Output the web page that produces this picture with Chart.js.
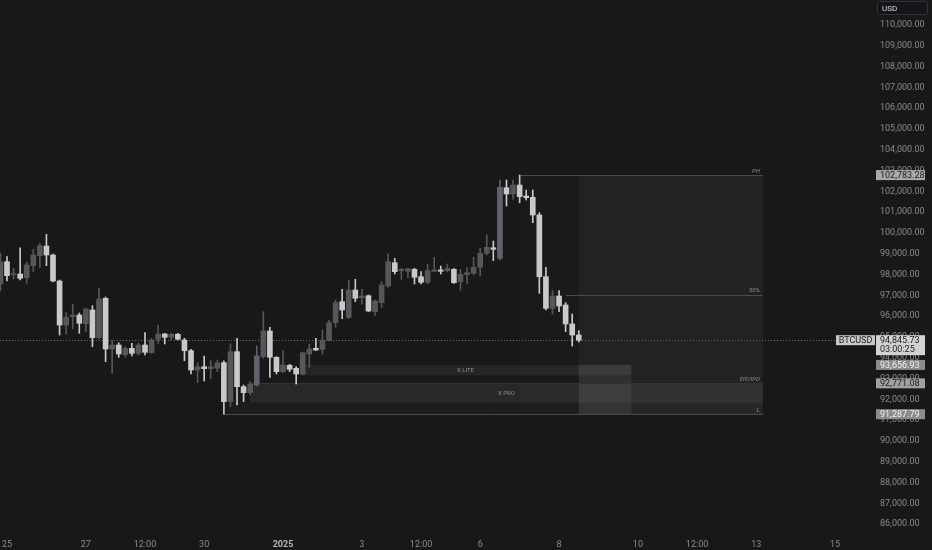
<!DOCTYPE html>
<html><head><meta charset="utf-8">
<script src="https://cdn.jsdelivr.net/npm/chart.js@4.4.1/dist/chart.umd.min.js"></script>
<style>html,body{margin:0;padding:0;background:#181818;}#wrap{width:932px;height:550px;}</style>
</head><body><div id="wrap"><canvas id="c" width="932" height="550"></canvas></div>
<script>
// 4H BTCUSD candles, starting Dec 24 20:00 (hours relative to Dec 25 00:00)
const firstCandleHour = -4;
const candleStepHours = 4;
const opens  = [97547,98620,98000,98028,97850,98427,98908,99374,98942,97692,95576,95975,96057,95639,96297,94966,96860,94422,94614,94148,94456,94215,94614,94244,94888,95143,94985,95129,94855,94340,93412,93571,93475,93495,93764,91889,94292,92610,92321,92691,94052,95288,94023,93331,93636,93495,93220,94182,94456,94407,94822,95687,96697,95946,97259,96889,96985,96215,96649,97451,98572,98187,98158,98254,97898,97629,98158,98220,98187,98254,97658,97995,98062,98350,99023,99292,98783,102178,101875,102307,101778,101716,100865,97898,96378,96970,96538,95624,95095];
const highs  = [99038,98860,98302,99292,98590,99215,99504,99937,98990,97740,96186,96571,96153,96394,96504,97340,96922,94855,94725,94533,94696,94696,95206,94936,95576,95177,95177,95177,94936,94407,93764,94086,93859,93893,93859,94663,94936,92691,92850,94566,96215,95466,94052,94340,93687,93571,94278,94663,94936,95336,95816,96778,97292,97740,97773,97292,97018,96778,97658,98990,98783,98302,98302,98302,98139,98509,98831,98413,98509,98283,98254,98331,98831,99263,99903,99615,102548,102548,102548,102783.28,102067,102067,100976,98350,97225,97225,96649,96105,95302];
const lows   = [97211,97692,97788,97740,97581,98139,98333,98427,97644,95095,95129,95384,95177,95254,94533,94903,93811,93253,94023,94023,94086,94134,94134,94215,94696,94662,94822,94855,93859,93220,92802,92884,92994,93331,91287.79,91649,91730,91889,92210,92643,93975,93061,93220,93283,93331,92739,93172,93542,94340,94182,94807,95466,95880,95880,96697,96586,96215,96023,96427,97389,98028,97773,97850,97547,97547,97547,98139,98028,98139,97581,97259,97547,97980,97932,98942,98668,98701,101298,101620,101456,101586,100495,97100,96297,96105,96215,95254,94566,94759];
const closes = [98605,97947,98030,97822,98460,98942,99389,98942,97692,95576,95946,96057,95658,96345,94966,96826,94422,94614,94182,94456,94215,94614,94263,94855,95143,94985,95129,94888,94340,93412,93571,93475,93571,93764,91889,94292,92610,92321,92739,94086,95288,94023,93331,93653,93445,93220,94244,94422,94374,94855,95687,96649,96297,97259,96860,96970,96249,96730,97499,98620,98139,98254,98283,97870,97629,98187,98220,98158,98302,97610,98014,98091,98350,99023,99311,99215,102197,101875,102307,101745,101697,100865,97898,96378,96970,96489,95624,95095,94845.73];
const accentCandles = [39, 76]; // bluish-tinted bullish candles

// axis ticks
const xTickHours  = [0, 48, 84, 120, 168, 216, 252, 288, 336, 384, 420, 456, 504];
const xTickLabels = ['25','27','12:00','30','2025','3','12:00','6','8','10','12:00','13','15'];
const yTickValues = [86000,87000,88000,89000,90000,91000,92000,93000,94000,95000,96000,97000,98000,99000,100000,101000,102000,103000,104000,105000,106000,107000,108000,109000,110000];

// levels
const lastPrice = 94845.73;
const countdown = '03:00:25';
const symbol = 'BTCUSD';
const rangeHigh = 102783.28;
const rangeLow = 91287.79;
const liteTop = 93656.93;
const liteBottom = 93150;
const proTop = 92771.08;
const proBottom = 91830;
const rangeStartHour = 312, rangeEndHour = 460, lastCandleHour = 348, midStartHour = 340;
const liteStartHour = 178, liteEndHour = 380;
const proStartHour = 148, lowStartHour = 132;

const times = opens.map((_, i) => firstCandleHour + i * candleStepHours);
const upCol = '#56565b', downCol = '#c9c9c9', accentCol = '#62626f';
const colors = opens.map((o, i) => closes[i] >= o ? (accentCandles.includes(i) ? accentCol : upCol) : downCol);

const fmt = v => v.toLocaleString('en-US', {minimumFractionDigits: 2, maximumFractionDigits: 2});
const FONT = 'Roboto, "Noto Sans", sans-serif';

const overlay = {
  id: 'overlay',
  beforeDatasetsDraw(chart) {
    const {ctx, scales: {x, y}, chartArea: ca} = chart;
    const X = h => x.getPixelForValue(h), Y = v => y.getPixelForValue(v);
    ctx.save();
    // range box
    ctx.fillStyle = 'rgba(255,255,255,0.01)';
    ctx.fillRect(X(rangeStartHour), Y(rangeHigh), X(rangeEndHour) - X(rangeStartHour), Y(rangeLow) - Y(rangeHigh));
    ctx.fillStyle = 'rgba(255,255,255,0.04)';
    ctx.fillRect(X(lastCandleHour), Y(rangeHigh), X(rangeEndHour) - X(lastCandleHour), Y(rangeLow) - Y(rangeHigh));
    // low zone
    ctx.fillStyle = 'rgba(255,255,255,0.025)';
    ctx.fillRect(X(lowStartHour), Y(proBottom), X(rangeEndHour) - X(lowStartHour), Y(rangeLow) - Y(proBottom));
    // X PRO
    ctx.fillStyle = 'rgba(255,255,255,0.07)';
    ctx.fillRect(X(proStartHour), Y(proTop), X(rangeEndHour) - X(proStartHour), Y(proBottom) - Y(proTop));
    // X LITE
    ctx.fillStyle = 'rgba(255,255,255,0.06)';
    ctx.fillRect(X(liteStartHour), Y(liteTop), X(liteEndHour) - X(liteStartHour), Y(liteBottom) - Y(liteTop));
    ctx.fillStyle = 'rgba(255,255,255,0.06)';
    ctx.fillRect(X(lastCandleHour), Y(liteTop), X(liteEndHour) - X(lastCandleHour), Y(rangeLow) - Y(liteTop));
    // lines
    ctx.strokeStyle = '#4a4a4a'; ctx.lineWidth = 1;
    const hline = (h0, h1, v) => { const yy = Math.round(Y(v)) + 0.5; ctx.beginPath(); ctx.moveTo(X(h0), yy); ctx.lineTo(X(h1), yy); ctx.stroke(); };
    hline(rangeStartHour, rangeEndHour, rangeHigh);
    hline(midStartHour, rangeEndHour, (rangeHigh + rangeLow) / 2);
    hline(lowStartHour, rangeEndHour, rangeLow);
    ctx.strokeStyle = '#333';
    hline(proStartHour, rangeEndHour, proTop);
    // labels
    ctx.fillStyle = '#8a8a8a';
    ctx.font = 'italic 6px ' + FONT;
    ctx.textAlign = 'right'; ctx.textBaseline = 'bottom';
    const xr = X(rangeEndHour) - 3;
    ctx.fillText('PH', xr, Y(rangeHigh) - 1);
    ctx.fillText('50%', xr, Y((rangeHigh + rangeLow) / 2) - 1);
    ctx.fillText('EIP/IPD', xr, Y(proTop) - 1);
    ctx.fillText('L', xr, Y(rangeLow) - 1);
    ctx.font = '6px ' + FONT; ctx.textAlign = 'center'; ctx.textBaseline = 'middle';
    ctx.fillText('X LITE', (X(liteStartHour) + X(liteEndHour)) / 2, (Y(liteTop) + Y(liteBottom)) / 2);
    ctx.fillText('X PRO', (X(proStartHour) + X(rangeEndHour)) / 2, (Y(proTop) + Y(proBottom)) / 2);
    // last price dotted
    ctx.strokeStyle = '#6a6a6a'; ctx.setLineDash([1, 2]);
    const yl = Math.round(Y(lastPrice)) + 0.5;
    ctx.beginPath(); ctx.moveTo(ca.left, yl); ctx.lineTo(ca.right - 40, yl); ctx.stroke();
    ctx.restore();
  },
  afterDraw(chart) {
    const {ctx, scales: {y}, chartArea: ca} = chart;
    const Y = v => y.getPixelForValue(v);
    ctx.save();
    ctx.font = '9px ' + FONT; ctx.textBaseline = 'middle'; ctx.textAlign = 'left';
    const box = (v, bg, fg) => {
      const yy = Y(v);
      ctx.fillStyle = bg; ctx.fillRect(ca.right, yy - 5, 49, 10);
      ctx.fillStyle = fg; ctx.fillText(fmt(v), ca.right + 4, yy + 0.5);
    };
    box(rangeHigh, '#a9a9a9', '#1c1c1c');
    box(liteTop, '#8b8b8b', '#f0f0f0');
    box(proTop, '#a0a0a0', '#1c1c1c');
    box(rangeLow, '#8b8b8b', '#f0f0f0');
    // current price
    const yc = Y(lastPrice);
    ctx.fillStyle = '#d2d2d2'; ctx.fillRect(ca.right, yc - 5, 49, 20);
    ctx.fillStyle = '#1c1c1c';
    ctx.fillText(fmt(lastPrice), ca.right + 4, yc + 0.5);
    ctx.fillText(countdown, ca.right + 4, yc + 9.5);
    ctx.fillStyle = '#c8c8c8'; ctx.fillRect(ca.right - 40, yc - 5, 39, 10);
    ctx.fillStyle = '#1c1c1c'; ctx.textAlign = 'center';
    ctx.fillText(symbol, ca.right - 20.5, yc + 0.5);
    // USD
    ctx.strokeStyle = '#30333d'; ctx.lineWidth = 1;
    ctx.fillStyle = '#141519';
    ctx.beginPath(); ctx.roundRect(877.5, 1.5, 50, 13, 2); ctx.fill(); ctx.stroke();
    ctx.fillStyle = '#d8d8d8'; ctx.textAlign = 'left'; ctx.font = '8px ' + FONT;
    ctx.fillText('USD', 882, 8.5);
    ctx.restore();
  }
};

new Chart(document.getElementById('c'), {
  type: 'bar',
  data: {
    datasets: [
      { label: 'wick', data: times.map((t, i) => ({x: t, y: [lows[i], highs[i]]})), backgroundColor: colors, barThickness: 1, grouped: false, order: 2, minBarLength: 1 },
      { label: 'body', data: times.map((t, i) => ({x: t, y: [opens[i], closes[i]]})), backgroundColor: colors, barThickness: 5, grouped: false, order: 1, minBarLength: 1 }
    ]
  },
  options: {
    responsive: false, animation: false,
    layout: {padding: 0},
    plugins: {legend: {display: false}, tooltip: {enabled: false}},
    scales: {
      x: {
        type: 'linear', min: -4.26, max: 528.9, offset: false,
        grid: {display: false, drawTicks: false}, border: {display: false},
        afterBuildTicks: s => { s.ticks = xTickHours.map(v => ({value: v})); },
        afterFit: s => { s.height = 15; s.paddingLeft = 0; s.paddingRight = 0; },
        ticks: {
          autoSkip: false, maxRotation: 0, padding: 4,
          callback: (v, i) => xTickLabels[i],
          font: c => ({family: FONT, size: 9, weight: (c.tick && c.tick.label === '2025') ? 'bold' : 'normal'}),
          color: c => (c.tick && c.tick.label === '2025') ? '#b5b5b5' : '#8a8a8a'
        }
      },
      y: {
        position: 'right', min: 85479, max: 111202,
        grid: {display: false, drawTicks: false}, border: {display: false},
        afterBuildTicks: s => { s.ticks = yTickValues.map(v => ({value: v})); },
        afterFit: s => { s.width = 56; s.paddingTop = 0; s.paddingBottom = 0; },
        ticks: { padding: 4, color: '#8a8a8a', font: {family: FONT, size: 9}, callback: v => fmt(v) }
      }
    }
  },
  plugins: [overlay]
});
</script>
</body></html>
